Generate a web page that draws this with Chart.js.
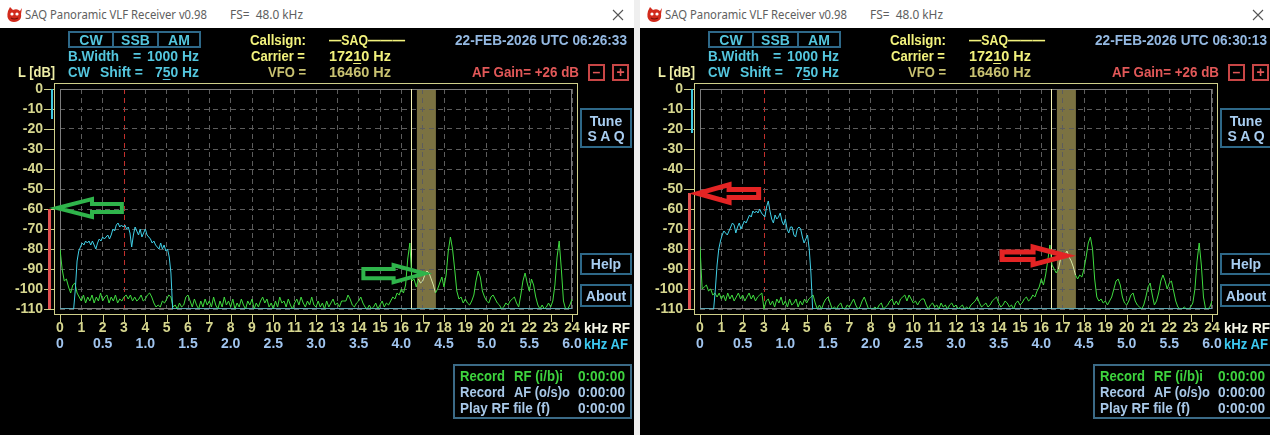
<!DOCTYPE html>
<html>
<head>
<meta charset="utf-8">
<title>SAQ Panoramic VLF Receiver</title>
<script src="https://cdn.jsdelivr.net/npm/chart.js@4.4.1/dist/chart.umd.min.js"></script>
<style>
  body { margin: 0; width: 1270px; height: 435px; overflow: hidden; position: relative; background: #efefef; }
  .win { position: absolute; top: 0; width: 634px; height: 435px; background: #000; overflow: hidden; }
  .title { position: absolute; left: 0; top: 0; width: 634px; height: 28px; background: #fff;
           color: #5e5e5e; font: 13px "Noto Sans", "Open Sans", sans-serif; }
  .title span { position: absolute; top: 5px; white-space: pre; transform-origin: left center; }
  .t { position: absolute; white-space: pre; font: bold 14px "Liberation Sans", Arial, sans-serif;
       line-height: 16px; height: 16px; transform-origin: left center; }
  .t u { text-underline-offset: 2px; }
  .box { position: absolute; box-sizing: border-box; border: 2px solid #2e6888; }
  canvas { position: absolute; left: 0; top: 28px; }
</style>
</head>
<body>
<script>
// spectrum bins, 0.1 kHz apart, 0..24 kHz RF
const rfBinKHz = 0.1;

// 22-FEB-2026 UTC 06:26:33
const rfSpecA = [
  -80, -90, -96, -95, -99, -102, -98, -97, -102, -104,
  -106, -103, -107, -104, -106, -103, -107, -104, -106, -102,
  -106, -104, -103, -107, -104, -106, -103, -107, -105, -106,
  -104, -103, -105, -103, -106, -104, -106, -105, -103, -106,
  -105, -103, -102, -104, -107, -109, -108, -109, -106, -107,
  -105, -103, -104, -109, -108, -110, -107, -109, -108, -104,
  -103, -106, -109, -105, -108, -110, -106, -109, -105, -108,
  -106, -109, -104, -108, -110, -106, -109, -104, -108, -106,
  -109, -105, -110, -107, -109, -105, -108, -110, -106, -108,
  -105, -110, -107, -109, -106, -104, -107, -105, -109, -107,
  -110, -106, -109, -104, -107, -106, -109, -105, -108, -110,
  -107, -105, -108, -104, -107, -109, -106, -108, -104, -108,
  -109, -106, -109, -107, -110, -106, -109, -107, -105, -108,
  -107, -109, -106, -106, -106, -103, -105, -108, -109, -107,
  -106, -104, -107, -109, -110, -108, -110, -109, -107, -110,
  -108, -106, -109, -107, -108, -106, -104, -105, -102, -103,
  -100, -102, -98, -85, -77, -96, -95, -99, -95, -97,
  -96, -93, -91, -92, -95, -98, -102, -100, -97, -94,
  -99, -93, -81, -74, -80, -90, -101, -105, -104, -107,
  -105, -107, -108, -106, -103, -96, -91, -94, -101, -104,
  -106, -107, -104, -103, -105, -107, -108, -110, -109, -107,
  -108, -106, -105, -104, -107, -109, -103, -96, -92, -97,
  -101, -95, -98, -104, -108, -110, -108, -110, -109, -107,
  -109, -106, -98, -84, -76, -90, -106, -110, -110, -108,
  -105
];

// 22-FEB-2026 UTC 06:30:13
const rfSpecB = [
  -79, -100, -99, -98, -101, -100, -103, -102, -104, -102,
  -105, -103, -106, -102, -105, -103, -106, -104, -102, -105,
  -103, -106, -104, -102, -105, -103, -106, -104, -103, -102,
  -110, -106, -105, -108, -106, -109, -105, -107, -104, -108,
  -106, -109, -105, -108, -107, -105, -109, -106, -108, -105,
  -107, -105, -104, -103, -107, -110, -108, -110, -107, -105,
  -104, -107, -110, -109, -110, -108, -107, -110, -110, -108,
  -109, -107, -105, -108, -110, -109, -106, -104, -107, -110,
  -110, -110, -109, -110, -108, -107, -110, -109, -108, -106,
  -105, -108, -106, -108, -105, -104, -103, -106, -103, -105,
  -107, -106, -108, -106, -105, -105, -108, -110, -108, -107,
  -109, -108, -110, -107, -109, -108, -110, -108, -107, -109,
  -108, -110, -109, -108, -110, -109, -110, -108, -107, -106,
  -104, -107, -109, -108, -107, -109, -108, -106, -105, -104,
  -107, -109, -108, -106, -107, -109, -108, -110, -107, -106,
  -108, -107, -105, -104, -106, -105, -103, -104, -101, -99,
  -95, -98, -93, -86, -78, -88, -90, -92, -90, -85,
  -84, -83, -81, -84, -86, -89, -93, -95, -93, -94,
  -90, -84, -77, -74, -80, -95, -104, -106, -105, -107,
  -106, -108, -106, -104, -100, -96, -95, -98, -104, -107,
  -108, -106, -103, -102, -106, -108, -109, -110, -108, -104,
  -99, -97, -103, -108, -106, -102, -96, -93, -96, -100,
  -97, -96, -101, -106, -109, -110, -110, -109, -110, -110,
  -109, -107, -100, -86, -77, -88, -104, -110, -110, -109,
  -106
];

// demodulated audio spectrum, kHz AF
const afFreqKHz = [
  0, 0.16, 0.18, 0.2, 0.22, 0.24, 0.26, 0.28, 0.3, 0.32, 0.34, 0.36,
  0.38, 0.4, 0.42, 0.44, 0.46, 0.48, 0.5, 0.52, 0.54, 0.56,
  0.58, 0.6, 0.62, 0.64, 0.66, 0.68, 0.7, 0.72, 0.74, 0.76,
  0.78, 0.8, 0.82, 0.84, 0.86, 0.88, 0.9, 0.92, 0.94, 0.96,
  0.98, 1.0, 1.02, 1.04, 1.06, 1.08, 1.1, 1.12, 1.14, 1.16,
  1.18, 1.2, 1.22, 1.24, 1.26, 1.28, 1.3, 1.32, 6
];
const afSpecA = [
  -110, -110, -100, -86, -81, -79, -77, -78, -76, -77, -76, -78,
  -76, -78, -80, -77, -75, -76, -74, -75, -74, -73,
  -75, -73, -70, -71, -68, -67, -69, -68, -69, -68,
  -70, -69, -72, -79, -73, -69, -71, -73, -70, -74,
  -72, -70, -73, -74, -75, -77, -76, -78, -79, -80,
  -77, -80, -78, -81, -80, -84, -92, -110, -110
];
const afSpecB = [
  -110, -110, -100, -88, -80, -76, -73, -71, -72, -73, -71, -69,
  -67, -68, -72, -69, -67, -70, -68, -66, -67, -65,
  -63, -64, -61, -62, -61, -62, -60, -62, -63, -64,
  -59, -56, -61, -65, -67, -63, -65, -64, -62, -66,
  -68, -65, -70, -72, -69, -69, -73, -74, -70, -69,
  -70, -74, -77, -75, -73, -80, -92, -110, -110
];

const rfTicks = [0, 1, 2, 3, 4, 5, 6, 7, 8, 9, 10, 11, 12, 13, 14, 15, 16, 17, 18, 19, 20, 21, 22, 23, 24];
const rfTickLabels = ['0', '1', '2', '3', '4', '5', '6', '7', '8', '9', '10', '11', '12',
                      '13', '14', '15', '16', '17', '18', '19', '20', '21', '22', '23', '24'];
const afTicks = [0, 0.5, 1, 1.5, 2, 2.5, 3, 3.5, 4, 4.5, 5, 5.5, 6];
const afTickLabels = ['0', '0.5', '1.0', '1.5', '2.0', '2.5', '3.0', '3.5', '4.0', '4.5', '5.0', '5.5', '6.0'];
const dbTicks = [-110, -100, -90, -80, -70, -60, -50, -40, -30, -20, -10, 0];
const dbTickLabels = ['-110', '-100', '-90', '-80', '-70', '-60', '-50', '-40', '-30', '-20', '-10', '0'];

const utcTimes = ['06:26:33', '06:30:13'];
const rfLevelDb = [-60, -52];
const afLevelDb = [-15, -22];
const vfoKHz = 16.46;
const cwShiftKHz = 0.75;
const passbandKHz = [16.73, 17.62];

const GREEN = '#3fdc3f', PALE = '#d6eaa6', CYAN = '#40cfe6';

Chart.defaults.font.family = '"Liberation Sans", Arial, sans-serif';
Chart.defaults.font.size = 14;
Chart.defaults.font.weight = 'bold';

function drawArrow(ctx, a, x, y) {
  const x0 = x.getPixelForValue(a.from[0]), y0 = y.getPixelForValue(a.from[1]);
  const x1 = x.getPixelForValue(a.to[0]);
  const dir = Math.sign(x1 - x0);
  const hb = x1 - dir * a.len;
  ctx.beginPath();
  ctx.moveTo(x0, y0 - a.shaft);
  ctx.lineTo(hb, y0 - a.shaft);
  ctx.lineTo(hb, y0 - a.head);
  ctx.lineTo(x1, y0);
  ctx.lineTo(hb, y0 + a.head);
  ctx.lineTo(hb, y0 + a.shaft);
  ctx.lineTo(x0, y0 + a.shaft);
  ctx.closePath();
  ctx.stroke();
}

const panoramaPlugin = {
  id: 'panorama',
  beforeDraw(chart) {
    const { ctx, chartArea: a, scales: { x } } = chart;
    const b0 = x.getPixelForValue(passbandKHz[0]), b1 = x.getPixelForValue(passbandKHz[1]);
    ctx.save();
    ctx.fillStyle = '#7b7242';
    ctx.fillRect(b0, a.top, b1 - b0, a.bottom - a.top);
    ctx.restore();
  },
  beforeDatasetsDraw(chart) {
    const { ctx, chartArea: a, scales: { x } } = chart;
    ctx.save();
    ctx.strokeStyle = '#7c7c7c';
    ctx.lineWidth = 1;
    ctx.strokeRect(a.left + 0.5, a.top + 0.5, a.right - a.left - 1, a.bottom - a.top - 1);
    const v = Math.round(x.getPixelForValue(vfoKHz)) + 0.5;
    ctx.strokeStyle = '#f4f2b4';
    ctx.beginPath();
    ctx.moveTo(v, a.top);
    ctx.lineTo(v, a.bottom);
    ctx.stroke();
    ctx.restore();
  },
  afterDraw(chart, args, o) {
    const { ctx, chartArea: a, scales: { x, y } } = chart;
    ctx.save();
    // outer frame
    ctx.strokeStyle = '#cfcf8a';
    ctx.lineWidth = 1;
    ctx.strokeRect(a.left - 5.5, a.top - 5.5, a.right - a.left + 11, a.bottom - a.top + 11);
    // tick marks
    ctx.beginPath();
    rfTicks.forEach(v => {
      const px = Math.round(x.getPixelForValue(v)) + 0.5;
      ctx.moveTo(px, a.bottom + 6);
      ctx.lineTo(px, a.bottom + 13);
    });
    dbTicks.forEach(v => {
      const py = Math.round(y.getPixelForValue(v)) + 0.5;
      ctx.moveTo(a.left - 16, py);
      ctx.lineTo(a.left - 6, py);
    });
    ctx.stroke();
    // level meters
    const yBot = y.getPixelForValue(-110);
    const yRf = y.getPixelForValue(o.rfLevel);
    ctx.fillStyle = '#e25252';
    ctx.fillRect(a.left - 12, yRf, 3, yBot - yRf);
    const yTop = y.getPixelForValue(0);
    const yAf = y.getPixelForValue(o.afLevel);
    ctx.fillStyle = '#3fc6de';
    ctx.fillRect(a.left - 9, yTop, 2, yAf - yTop);
    // hand-drawn arrows
    ctx.strokeStyle = o.arrowColor;
    ctx.lineWidth = o.arrowWidth;
    ctx.lineJoin = 'miter';
    o.arrows.forEach(ar => drawArrow(ctx, ar, x, y));
    ctx.restore();
  }
};

const panes = [
  { left: 0, rf: rfSpecA, af: afSpecA, time: utcTimes[0], rfLevel: rfLevelDb[0], afLevel: afLevelDb[0],
    arrowColor: '#2fb44b', arrowWidth: 4,
    arrows: [
      { from: [2.9, -59.5], to: [-0.14, -59.5], shaft: 4, head: 9, len: 35 },
      { from: [14.22, -92.3], to: [17.09, -92.3], shaft: 4.7, head: 8.5, len: 31 }
    ] },
  { left: 640, rf: rfSpecB, af: afSpecB, time: utcTimes[1], rfLevel: rfLevelDb[1], afLevel: afLevelDb[1],
    arrowColor: '#e42424', arrowWidth: 5,
    arrows: [
      { from: [2.75, -52.2], to: [-0.09, -52.2], shaft: 4, head: 8.7, len: 31 },
      { from: [14.16, -83.4], to: [17.16, -83.4], shaft: 3.8, head: 8.8, len: 33 }
    ] }
];

// squeeze or stretch a text node to the width it has on screen
function fitWidth(el, w) {
  const actual = el.getBoundingClientRect().width;
  if (w && actual > 0) el.style.transform = 'scaleX(' + (w / actual).toFixed(3) + ')';
}

function addText(win, html, x, yc, color, w) {
  const d = document.createElement('div');
  d.className = 't';
  d.style.left = x + 'px';
  d.style.top = (yc - 8) + 'px';
  d.style.color = color;
  d.innerHTML = html;
  win.appendChild(d);
  fitWidth(d, w);
  return d;
}

function addBox(win, x, y, w, h, color) {
  const d = document.createElement('div');
  d.className = 'box';
  d.style.left = x + 'px';
  d.style.top = y + 'px';
  d.style.width = w + 'px';
  d.style.height = h + 'px';
  if (color) d.style.borderColor = color;
  win.appendChild(d);
  return d;
}

function centered(win, s, x, w, yc, color) {
  const d = addText(win, s, x, yc, color);
  d.style.width = w + 'px';
  d.style.textAlign = 'center';
}

function buildPane(p) {
  const win = document.createElement('div');
  win.className = 'win';
  win.style.left = p.left + 'px';
  document.body.appendChild(win);

  win.innerHTML =
    '<div class="title">' +
    '<svg style="position:absolute;left:5px;top:6px" width="18" height="18" viewBox="0 0 18 18">' +
    '<path d="M3 5 L5 1 L8 4 Q12 2 15 5 L17 2 L16 8 Q17 13 13 15 Q9 17 5 15 Q1 12 3 5Z" fill="#d22a1c"/>' +
    '<circle cx="7" cy="8" r="1.6" fill="#fff"/><circle cx="12" cy="8" r="1.6" fill="#fff"/>' +
    '<path d="M6 12 Q9 14 13 12" stroke="#7a0c06" stroke-width="1.2" fill="none"/></svg>' +
    '<span id="tt" style="left:25px">SAQ Panoramic VLF Receiver v0.98</span>' +
    '<span id="fs" style="left:230px">FS=  48.0 kHz</span>' +
    '<svg style="position:absolute;left:612px;top:9px" width="12" height="12">' +
    '<path d="M1 1 L11 11 M11 1 L1 11" stroke="#555" stroke-width="1.1"/></svg>' +
    '</div>';
  fitWidth(win.querySelector('#tt'), 182);
  fitWidth(win.querySelector('#fs'), 73);

  const cv = document.createElement('canvas');
  cv.width = 634;
  cv.height = 407;
  win.appendChild(cv);

  // mode selector
  const modes = [['CW', 68, 46], ['SSB', 112, 47], ['AM', 157, 44]];
  modes.forEach(([m, x, w]) => {
    addBox(win, x, 31, w, 17);
    centered(win, m, x, w, 39.5, '#54c6de');
  });
  const cy = '#54c6de';
  addText(win, 'B.Width', 68, 56, cy, 51);
  addText(win, '=', 133, 56, cy);
  addText(win, '1000 Hz', 147, 56, cy, 52);
  addText(win, 'CW', 68, 72, cy, 22);
  addText(win, 'Shift =', 100, 72, cy, 43);
  addText(win, '7<u>5</u>0 Hz', 155, 72, cy, 44);
  addText(win, 'L [dB]', 18, 72, '#eeeea6', 37);

  addText(win, 'Callsign:', 250, 40, '#f2f27c', 56);
  addText(win, 'Carrier =', 251, 56, '#f2f27c', 54);
  addText(win, 'VFO =', 268, 72, '#c9c271', 38);
  addText(win, '\u2014SAQ\u2014\u2014\u2014', 329, 40, '#f2f27c', 76);
  addText(win, '172<u>1</u>0 Hz', 329, 56, '#f2f27c', 62);
  addText(win, '16460 Hz', 329, 72, '#c9c271', 62);

  addText(win, '22-FEB-2026 UTC ' + p.time, 455, 40, '#94b9e2', 172);
  addText(win, 'AF Gain= +26 dB', 472, 72, '#e25858', 107);
  addBox(win, 588, 64, 17, 17, '#c84646');
  centered(win, '\u2013', 588, 17, 71.5, '#e25858');
  addBox(win, 612, 64, 17, 17, '#c84646');
  centered(win, '+', 612, 17, 71.5, '#e25858');

  // buttons
  const btn = '#a8cdf0';
  addBox(win, 580, 108, 52, 40);
  centered(win, 'Tune', 580, 52, 120.5, btn);
  centered(win, 'S A Q', 580, 52, 136, btn);
  addBox(win, 580, 253, 52, 22);
  centered(win, 'Help', 580, 52, 264, btn);
  addBox(win, 580, 284, 52, 23);
  centered(win, 'About', 580, 52, 296, btn);

  // axis units
  addText(win, 'kHz RF', 584, 328, '#f6f6e6', 46);
  addText(win, 'kHz AF', 584, 344, '#3cc8f0', 44);

  // record panel
  addBox(win, 453, 364, 179, 55, '#3b6a86');
  const rec = [['Record', 'RF (i/b)i', 49, '#3ed43e'], ['Record', 'AF (o/s)o', 56, '#a8c8e8']];
  rec.forEach(([a, b, bw, c], i) => {
    addText(win, a, 460, 376 + i * 16, c, 45);
    addText(win, b, 514, 376 + i * 16, c, bw);
    addText(win, '0:00:00', 578, 376 + i * 16, c, 47);
  });
  addText(win, 'Play RF file (f)', 460, 408, '#a8c8e8', 90);
  addText(win, '0:00:00', 578, 408, '#a8c8e8', 47);

  const gridColor = c => (c.tick && Math.abs(c.tick.value - cwShiftKHz * 4) < 1e-6) ? '#c4302c' : '#5c5c5c';

  new Chart(cv, {
    type: 'line',
    data: {
      datasets: [
        {
          label: 'AF',
          xAxisID: 'xAF',
          data: afFreqKHz.map((f, i) => ({ x: f, y: p.af[i] })),
          borderColor: CYAN,
          borderWidth: 1,
          pointRadius: 0,
          tension: 0
        },
        {
          label: 'RF',
          xAxisID: 'x',
          data: p.rf.map((v, i) => ({ x: Math.round(i * rfBinKHz * 10) / 10, y: v })),
          borderColor: GREEN,
          borderWidth: 1,
          pointRadius: 0,
          tension: 0,
          segment: {
            borderColor: c => (c.p0.parsed.x >= passbandKHz[0] && c.p1.parsed.x <= passbandKHz[1]) ? PALE : undefined
          }
        }
      ]
    },
    options: {
      responsive: false,
      animation: false,
      events: [],
      layout: { padding: { left: 0, right: 62, top: 61, bottom: 86 } },
      plugins: {
        legend: { display: false },
        tooltip: { enabled: false },
        panorama: { rfLevel: p.rfLevel, afLevel: p.afLevel, arrows: p.arrows,
                    arrowColor: p.arrowColor, arrowWidth: p.arrowWidth }
      },
      scales: {
        x: {
          type: 'linear', position: 'bottom', min: 0, max: 24, weight: 0,
          afterFit: s => { s.height = 24; },
          afterBuildTicks: s => { s.ticks = rfTicks.map(v => ({ value: v })); },
          ticks: { autoSkip: false, maxRotation: 0, padding: 11, color: '#d6d68e',
                   callback: (v, i) => rfTickLabels[i] },
          grid: { drawTicks: false, color: gridColor, lineWidth: 1 },
          border: { display: false, dash: [5, 4] }
        },
        xAF: {
          type: 'linear', position: 'bottom', min: 0, max: 6, weight: 1,
          afterFit: s => { s.height = 16; },
          afterBuildTicks: s => { s.ticks = afTicks.map(v => ({ value: v })); },
          ticks: { autoSkip: false, maxRotation: 0, padding: 3, color: '#a0c4ee',
                   callback: (v, i) => afTickLabels[i] },
          grid: { display: false, drawTicks: false },
          border: { display: false }
        },
        y: {
          type: 'linear', position: 'left', min: -110, max: 0,
          afterFit: s => { s.width = 60; },
          afterBuildTicks: s => { s.ticks = dbTicks.map(v => ({ value: v })); },
          ticks: { autoSkip: false, padding: 17, color: '#d6d68e',
                   callback: (v, i) => dbTickLabels[i] },
          grid: { drawTicks: false, color: '#5c5c5c', lineWidth: 1 },
          border: { display: false, dash: [5, 4] }
        }
      }
    },
    plugins: [panoramaPlugin]
  });
}

panes.forEach(buildPane);
</script>
</body>
</html>
